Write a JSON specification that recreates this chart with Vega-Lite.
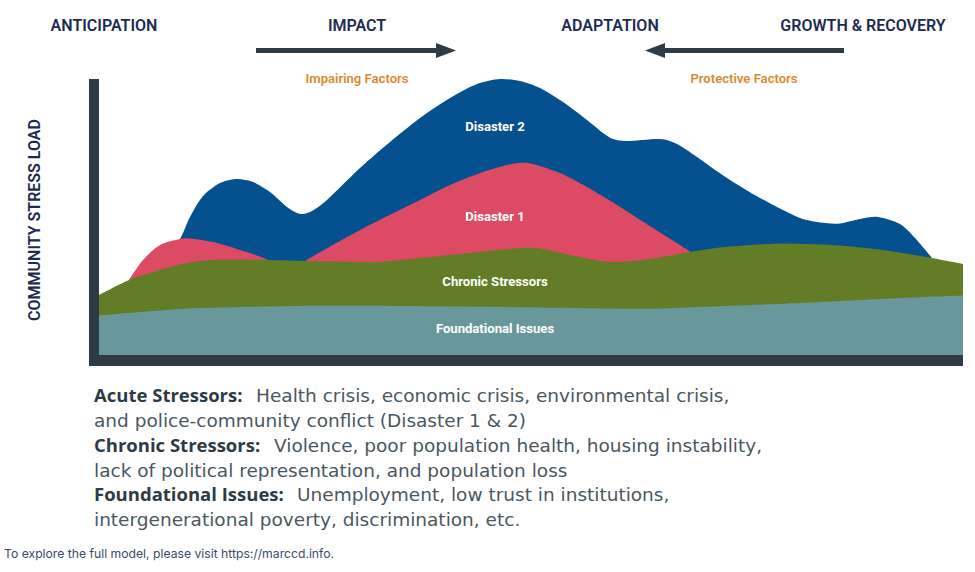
{
  "$schema": "https://vega.github.io/schema/vega-lite/v6.json",
  "width": 874,
  "height": 287,
  "autosize": "none",
  "padding": {"left": 89, "top": 79, "right": 12, "bottom": 206},
  "background": "white",
  "view": {"stroke": null},
  "datasets": {
    "curves": [
      {"series":"Disaster 2","x":61,"y":86},{"series":"Disaster 2","x":81,"y":117},{"series":"Disaster 2","x":91,"y":139},{"series":"Disaster 2","x":104,"y":160},{"series":"Disaster 2","x":121,"y":173},{"series":"Disaster 2","x":138,"y":177},{"series":"Disaster 2","x":154,"y":174},{"series":"Disaster 2","x":171,"y":164},{"series":"Disaster 2","x":188,"y":149},{"series":"Disaster 2","x":198,"y":143},{"series":"Disaster 2","x":204,"y":142},{"series":"Disaster 2","x":213,"y":145},{"series":"Disaster 2","x":228,"y":156},{"series":"Disaster 2","x":261,"y":188},{"series":"Disaster 2","x":291,"y":214},{"series":"Disaster 2","x":321,"y":238},{"series":"Disaster 2","x":351,"y":258},{"series":"Disaster 2","x":378,"y":272},{"series":"Disaster 2","x":401,"y":277},{"series":"Disaster 2","x":421,"y":275},{"series":"Disaster 2","x":441,"y":268},{"series":"Disaster 2","x":464,"y":254},{"series":"Disaster 2","x":488,"y":236},{"series":"Disaster 2","x":504,"y":223},{"series":"Disaster 2","x":514,"y":217},{"series":"Disaster 2","x":528,"y":215},{"series":"Disaster 2","x":561,"y":217},{"series":"Disaster 2","x":578,"y":212},{"series":"Disaster 2","x":598,"y":199},{"series":"Disaster 2","x":628,"y":178},{"series":"Disaster 2","x":661,"y":158},{"series":"Disaster 2","x":701,"y":138},{"series":"Disaster 2","x":726,"y":133},{"series":"Disaster 2","x":741,"y":132.5},{"series":"Disaster 2","x":761,"y":137},{"series":"Disaster 2","x":779,"y":139},{"series":"Disaster 2","x":801,"y":132},{"series":"Disaster 2","x":816,"y":118},{"series":"Disaster 2","x":833,"y":98},
      {"series":"Disaster 1","x":30,"y":76},{"series":"Disaster 1","x":44,"y":96},{"series":"Disaster 1","x":61,"y":111},{"series":"Disaster 1","x":81,"y":117},{"series":"Disaster 1","x":91,"y":117.5},{"series":"Disaster 1","x":114,"y":114},{"series":"Disaster 1","x":138,"y":107},{"series":"Disaster 1","x":169,"y":96},{"series":"Disaster 1","x":186,"y":80},{"series":"Disaster 1","x":196,"y":86},{"series":"Disaster 1","x":206,"y":95},{"series":"Disaster 1","x":261,"y":126},{"series":"Disaster 1","x":321,"y":156},{"series":"Disaster 1","x":351,"y":171},{"series":"Disaster 1","x":384,"y":184},{"series":"Disaster 1","x":408,"y":191},{"series":"Disaster 1","x":420,"y":193},{"series":"Disaster 1","x":432,"y":192.5},{"series":"Disaster 1","x":461,"y":183},{"series":"Disaster 1","x":488,"y":169},{"series":"Disaster 1","x":518,"y":151},{"series":"Disaster 1","x":554,"y":128},{"series":"Disaster 1","x":592,"y":104},{"series":"Disaster 1","x":602,"y":97},
      {"series":"Chronic Stressors","x":0,"y":61},{"series":"Chronic Stressors","x":30,"y":76},{"series":"Chronic Stressors","x":54,"y":84},{"series":"Chronic Stressors","x":88,"y":93},{"series":"Chronic Stressors","x":114,"y":96},{"series":"Chronic Stressors","x":169,"y":96},{"series":"Chronic Stressors","x":206,"y":95},{"series":"Chronic Stressors","x":261,"y":94},{"series":"Chronic Stressors","x":281,"y":94},{"series":"Chronic Stressors","x":321,"y":98},{"series":"Chronic Stressors","x":371,"y":103},{"series":"Chronic Stressors","x":421,"y":108},{"series":"Chronic Stressors","x":441,"y":107.5},{"series":"Chronic Stressors","x":471,"y":101},{"series":"Chronic Stressors","x":511,"y":94},{"series":"Chronic Stressors","x":551,"y":97},{"series":"Chronic Stressors","x":591,"y":104},{"series":"Chronic Stressors","x":631,"y":109.5},{"series":"Chronic Stressors","x":686,"y":112.5},{"series":"Chronic Stressors","x":741,"y":110.5},{"series":"Chronic Stressors","x":791,"y":105},{"series":"Chronic Stressors","x":833,"y":98},{"series":"Chronic Stressors","x":864,"y":92},
      {"series":"Foundational Issues","x":0,"y":40.5},{"series":"Foundational Issues","x":41,"y":44},{"series":"Foundational Issues","x":101,"y":48},{"series":"Foundational Issues","x":201,"y":50},{"series":"Foundational Issues","x":301,"y":50},{"series":"Foundational Issues","x":401,"y":49},{"series":"Foundational Issues","x":501,"y":47.5},{"series":"Foundational Issues","x":554,"y":47.3},{"series":"Foundational Issues","x":601,"y":49},{"series":"Foundational Issues","x":701,"y":53},{"series":"Foundational Issues","x":801,"y":58},{"series":"Foundational Issues","x":864,"y":60.5}
    ],
    "arrows": [
      {"label":"Impairing Factors","direction":"right","x":157,"x2":338,"head":347,"y":305.5},
      {"label":"Protective Factors","direction":"left","x":745,"x2":565,"head":556,"y":305.5}
    ],
    "stages": [
      {"text":"ANTICIPATION","x":5,"y":330},
      {"text":"IMPACT","x":258,"y":330},
      {"text":"ADAPTATION","x":511,"y":330},
      {"text":"GROWTH & RECOVERY","x":764,"y":330}
    ],
    "factors": [
      {"text":"Impairing Factors","x":258,"y":277},
      {"text":"Protective Factors","x":645,"y":277}
    ],
    "areaLabels": [
      {"text":"Disaster 2","x":396,"y":229},
      {"text":"Disaster 1","x":396,"y":139},
      {"text":"Chronic Stressors","x":396,"y":74},
      {"text":"Foundational Issues","x":396,"y":27}
    ],
    "notesBold": [
      {"text":"Acute Stressors:","x":-5,"y":-40},
      {"text":"Chronic Stressors:","x":-5,"y":-90},
      {"text":"Foundational Issues:","x":-5,"y":-139}
    ],
    "notes": [
      {"text":"Health crisis, economic crisis, environmental crisis,","x":157,"y":-40},
      {"text":"and police-community conflict (Disaster 1 & 2)","x":-5,"y":-65},
      {"text":"Violence, poor population health, housing instability,","x":175,"y":-90},
      {"text":"lack of political representation, and population loss","x":-5,"y":-115},
      {"text":"Unemployment, low trust in institutions,","x":198,"y":-139},
      {"text":"intergenerational poverty, discrimination, etc.","x":-5,"y":-164}
    ],
    "footer": [
      {"text":"To explore the full model, please visit https://marccd.info.","x":-95,"y":-198}
    ]
  },
  "encoding": {
    "x": {
      "field": "x",
      "type": "quantitative",
      "scale": {"domain": [-10, 864], "nice": false, "zero": false},
      "axis": {"title": null, "labels": false, "ticks": false, "grid": false, "domainColor": "#2e3b45", "domainWidth": 11, "offset": -5.5, "translate": 0, "zindex": 1}
    },
    "y": {
      "field": "y",
      "type": "quantitative",
      "scale": {"domain": [-10, 277], "nice": false, "zero": false},
      "axis": {"title": "COMMUNITY STRESS LOAD", "labels": false, "ticks": false, "grid": false, "domainColor": "#2e3b45", "domainWidth": 10, "offset": -5, "translate": 0, "zindex": 1, "titleFont": "Roboto", "titleFontSize": 16, "titleFontWeight": 600, "titleColor": "#1c2b52", "titlePadding": 51, "titleY": 141}
    }
  },
  "layer": [
    {
      "data": {"name": "curves"},
      "mark": {"type": "area", "interpolate": "cardinal", "tension": 0.2},
      "encoding": {
        "y": {"field": "y", "type": "quantitative", "stack": null},
        "color": {
          "field": "series",
          "type": "nominal",
          "legend": null,
          "scale": {
            "domain": ["Disaster 2", "Disaster 1", "Chronic Stressors", "Foundational Issues"],
            "range": ["#05508f", "#dd4a63", "#627d26", "#68979c"]
          }
        }
      }
    },
    {
      "data": {"name": "arrows"},
      "mark": {"type": "rule", "color": "#2e3b45", "strokeWidth": 5},
      "encoding": {"x2": {"field": "x2"}}
    },
    {
      "data": {"name": "arrows"},
      "mark": {"type": "point", "filled": true, "opacity": 1, "color": "#2e3b45", "size": 400},
      "encoding": {
        "x": {"field": "head", "type": "quantitative"},
        "shape": {
          "field": "direction",
          "type": "nominal",
          "legend": null,
          "scale": {"domain": ["right", "left"], "range": ["M-1,-0.75L1,0L-1,0.75Z", "M1,-0.75L-1,0L1,0.75Z"]}
        }
      }
    },
    {
      "data": {"name": "stages"},
      "mark": {"type": "text", "font": "Roboto", "fontSize": 16, "fontWeight": 600, "color": "#1c2b52"},
      "encoding": {"text": {"field": "text"}}
    },
    {
      "data": {"name": "factors"},
      "mark": {"type": "text", "font": "Roboto", "fontSize": 13.1, "fontWeight": 600, "color": "#dd8a2e"},
      "encoding": {"text": {"field": "text"}}
    },
    {
      "data": {"name": "areaLabels"},
      "mark": {"type": "text", "font": "Roboto", "fontSize": 13.1, "fontWeight": 700, "color": "white"},
      "encoding": {"text": {"field": "text"}}
    },
    {
      "data": {"name": "notesBold"},
      "mark": {"type": "text", "align": "left", "font": "Open Sans", "fontSize": 18.5, "fontWeight": 700, "color": "#2e3b45"},
      "encoding": {"text": {"field": "text"}}
    },
    {
      "data": {"name": "notes"},
      "mark": {"type": "text", "align": "left", "font": "DejaVu Sans", "fontSize": 18.5, "color": "#4a575f"},
      "encoding": {"text": {"field": "text"}}
    },
    {
      "data": {"name": "footer"},
      "mark": {"type": "text", "align": "left", "font": "Inter", "fontSize": 12.2, "color": "#3b4a66"},
      "encoding": {"text": {"field": "text"}}
    }
  ]
}
